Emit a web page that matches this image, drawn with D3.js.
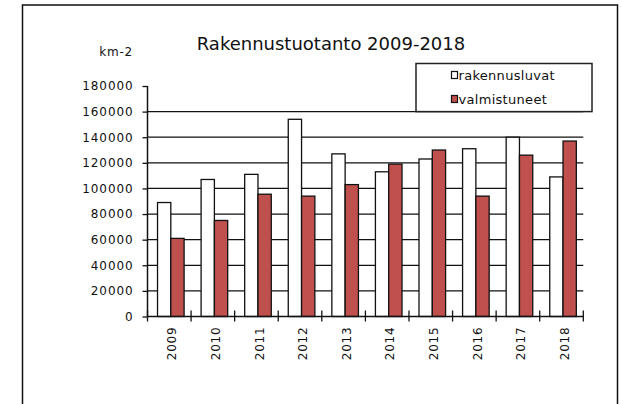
<!DOCTYPE html>
<html>
<head>
<meta charset="utf-8">
<script src="https://cdn.jsdelivr.net/npm/d3@7"></script>
<style>
  body { margin: 0; background: #fff; }
  text { font-family: "DejaVu Sans", Verdana, sans-serif; fill: #111; }
</style>
</head>
<body>
<svg id="chart" width="621" height="404"></svg>
<script>
const years = ["2009", "2010", "2011", "2012", "2013", "2014", "2015", "2016", "2017", "2018"];
const rakennusluvat = [89000, 107000, 111000, 154000, 127000, 113000, 123000, 131000, 140000, 109000];
const valmistuneet = [61000, 75000, 95500, 94000, 103000, 119000, 130000, 94000, 126000, 137000];
const seriesNames = ["rakennusluvat", "valmistuneet"];
const seriesColors = ["#ffffff", "#c0504d"];
const yTicks = [0, 20000, 40000, 60000, 80000, 100000, 120000, 140000, 160000, 180000];
const gridValues = [20000, 40000, 60000, 80000, 100000, 120000, 140000, 160000];

const svg = d3.select("#chart");

// outer frame
svg.append("rect")
    .attr("x", 22.5).attr("y", 5)
    .attr("width", 595).attr("height", 420)
    .attr("fill", "none").attr("stroke", "#111").attr("stroke-width", 1.5);

const x = d3.scaleBand().domain(years).range([147.5, 583.3]);
const bw = x.bandwidth();
const x1 = d3.scaleBand().domain(seriesNames).range([bw * 0.23, bw * 0.84]);
const y = d3.scaleLinear().domain([0, 180000]).range([316.5, 86]);

// gridlines
svg.append("g").selectAll("line")
    .data(gridValues)
    .join("line")
    .attr("x1", 147.5).attr("x2", 583.3)
    .attr("y1", d => y(d)).attr("y2", d => y(d))
    .attr("stroke", "#111").attr("stroke-width", 1.3);

// bars
const data = years.map((yr, i) => ({ year: yr, values: [rakennusluvat[i], valmistuneet[i]] }));
const groups = svg.append("g").selectAll("g")
    .data(data)
    .join("g")
    .attr("transform", d => `translate(${x(d.year)},0)`);

groups.selectAll("rect")
    .data(d => d.values.map((v, j) => ({ key: seriesNames[j], value: v, color: seriesColors[j] })))
    .join("rect")
    .attr("x", d => x1(d.key))
    .attr("width", x1.bandwidth())
    .attr("y", d => y(d.value))
    .attr("height", d => y(0) - y(d.value))
    .attr("fill", d => d.color)
    .attr("stroke", "#111")
    .attr("stroke-width", 1.3);

// y axis
const yAxis = svg.append("g")
    .attr("transform", "translate(147.5,0)")
    .call(d3.axisLeft(y).tickValues(yTicks).tickSize(5).tickPadding(9).tickFormat(d => d));
yAxis.select(".domain").attr("stroke", "#111").attr("stroke-width", 1.5).attr("d", `M0,${y(180000)}V${y(0)}`);
yAxis.selectAll(".tick line").attr("stroke", "#111").attr("stroke-width", 1.3);
yAxis.selectAll("text")
    .style("font-family", "DejaVu Sans, sans-serif")
    .style("font-size", "12px")
    .style("letter-spacing", "0.9px")
    .attr("fill", "#111");

// x axis
const xAxis = svg.append("g")
    .attr("transform", `translate(0,${y(0)})`)
    .call(d3.axisBottom(x).tickSize(0).tickPadding(0));
xAxis.select(".domain").attr("stroke", "#111").attr("stroke-width", 1.5).attr("d", `M147.5,0H583.3`);
xAxis.selectAll(".tick line").remove();
xAxis.selectAll(".tick text")
    .attr("transform", "translate(3,10) rotate(-90)")
    .attr("x", 0).attr("y", 0).attr("dy", "0.35em")
    .style("text-anchor", "end")
    .style("font-family", "DejaVu Sans, sans-serif")
    .style("font-size", "12px")
    .style("letter-spacing", "0.8px")
    .attr("fill", "#111");

// category boundary ticks
const bounds = years.map(d => x(d)).concat([x.range()[1]]);
xAxis.append("g").selectAll("line")
    .data(bounds)
    .join("line")
    .attr("x1", d => d).attr("x2", d => d)
    .attr("y1", -6).attr("y2", 5)
    .attr("stroke", "#111").attr("stroke-width", 1.3);

// title and unit
svg.append("text")
    .attr("x", 331).attr("y", 50)
    .attr("text-anchor", "middle")
    .style("font-size", "18px")
    .text("Rakennustuotanto 2009-2018");

svg.append("text")
    .attr("x", 133).attr("y", 56)
    .attr("text-anchor", "end")
    .style("font-size", "12px")
    .style("letter-spacing", "0.8px")
    .text("km-2");

// legend
const legend = svg.append("g");
legend.append("rect")
    .attr("x", 416).attr("y", 63.5)
    .attr("width", 176).attr("height", y(160000) - 63.5)
    .attr("fill", "#fff").attr("stroke", "#222").attr("stroke-width", 1.5);

const items = legend.selectAll("g")
    .data(seriesNames)
    .join("g")
    .attr("transform", (d, i) => `translate(451.5,${75 + i * 24})`);
items.append("rect")
    .attr("x", 0).attr("y", -3.5)
    .attr("width", 6).attr("height", 7)
    .attr("fill", (d, i) => seriesColors[i])
    .attr("stroke", "#111").attr("stroke-width", 1.2);
items.append("text")
    .attr("x", 7).attr("y", 0).attr("dy", "0.35em")
    .style("font-size", "13px")
    .style("letter-spacing", "0.3px")
    .text(d => d);
</script>
</body>
</html>
